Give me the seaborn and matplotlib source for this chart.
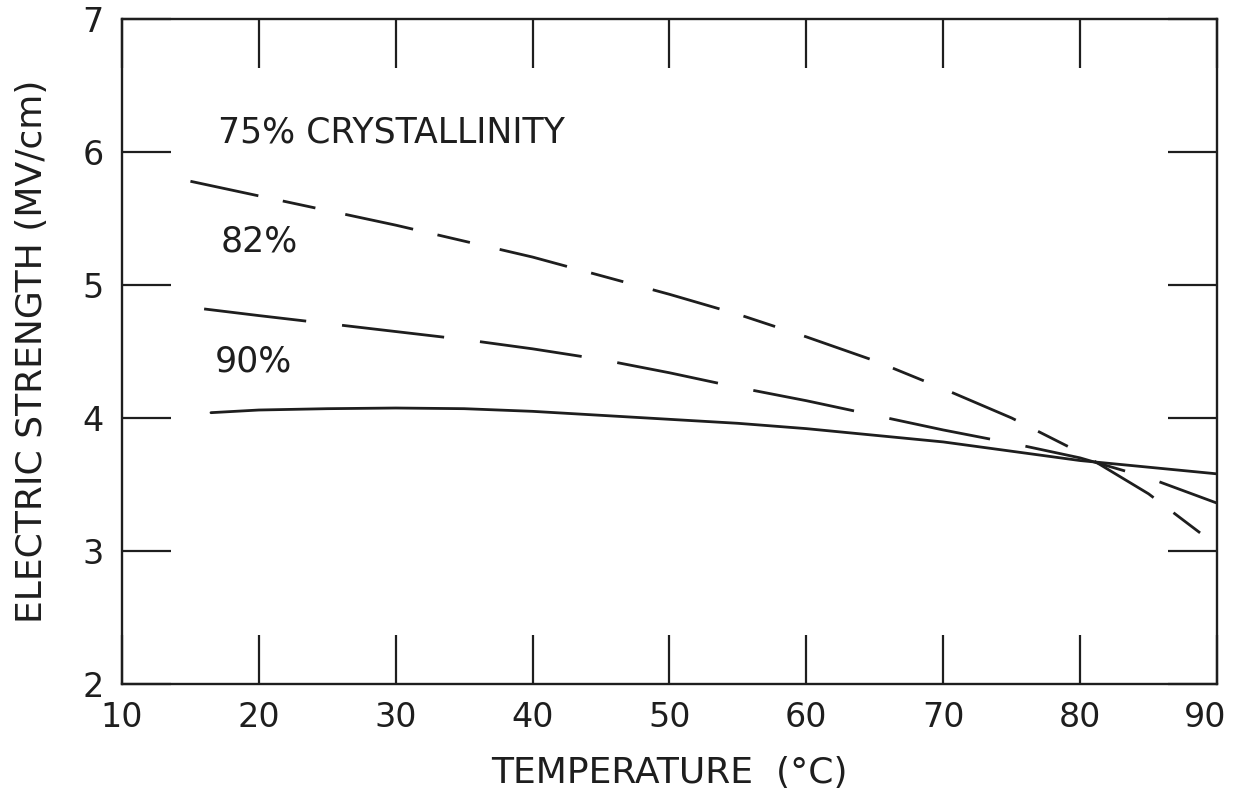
import pandas as pd
import matplotlib
matplotlib.use('Agg')
import matplotlib.pyplot as plt
import matplotlib.transforms as mtransforms
import seaborn as sns

# values
temp_75 = [15, 20, 25, 30, 35, 40, 45, 50, 55, 60, 65, 70, 75, 80, 85, 90]
strength_75 = [5.78, 5.67, 5.56, 5.45, 5.33, 5.21, 5.07, 4.93, 4.78, 4.61, 4.43, 4.22, 4.00, 3.74, 3.43, 3.04]

temp_82 = [16, 20, 25, 30, 35, 40, 45, 50, 55, 60, 65, 70, 75, 80, 85, 90]
strength_82 = [4.82, 4.77, 4.71, 4.65, 4.59, 4.52, 4.44, 4.34, 4.23, 4.13, 4.02, 3.91, 3.81, 3.70, 3.55, 3.36]

temp_90 = [16.5, 20, 25, 30, 35, 40, 45, 50, 55, 60, 65, 70, 75, 80, 85, 90]
strength_90 = [4.04, 4.06, 4.07, 4.075, 4.07, 4.05, 4.02, 3.99, 3.96, 3.92, 3.87, 3.82, 3.75, 3.68, 3.63, 3.58]

x_ticks = [10, 20, 30, 40, 50, 60, 70, 80, 90]
y_ticks = [2, 3, 4, 5, 6, 7]

sns.set_theme(style='white')
plt.rcParams['font.family'] = ['DejaVu Sans']

ink = '#1e1e1e'

fig = plt.figure(figsize=(12.36, 8.06), dpi=100)
ax = fig.add_axes([0.0987, 0.1514, 0.8859, 0.8250])

df75 = pd.DataFrame({'T': temp_75, 'E': strength_75})
df82 = pd.DataFrame({'T': temp_82, 'E': strength_82})
df90 = pd.DataFrame({'T': temp_90, 'E': strength_90})

sns.lineplot(data=df75, x='T', y='E', ax=ax, color=ink, linewidth=2.0, dashes=False)
sns.lineplot(data=df82, x='T', y='E', ax=ax, color=ink, linewidth=2.0, dashes=False)
sns.lineplot(data=df90, x='T', y='E', ax=ax, color=ink, linewidth=2.0, dashes=False)
ax.lines[0].set_dashes([25, 9, 12, 11])
ax.lines[1].set_dashes([37, 13])

ax.set_xlim(10, 90)
ax.set_ylim(2, 7)
ax.set_xticks(x_ticks)
ax.set_yticks(y_ticks)
ax.tick_params(axis='both', which='major', direction='in', length=35, width=1.6,
               color=ink, labelsize=24, labelcolor=ink,
               top=True, right=True, bottom=True, left=True)
ax.tick_params(axis='x', pad=12)
ax.tick_params(axis='y', pad=13)

# the last x label sits a little left of its tick, as in the original
last = ax.get_xticklabels()[-1]
last.set_transform(last.get_transform() + mtransforms.ScaledTranslation(-12 / 100, 0, fig.dpi_scale_trans))

for sp in ax.spines.values():
    sp.set_color(ink)
    sp.set_linewidth(1.7)

ax.set_xlabel('TEMPERATURE  (°C)', fontsize=26, color=ink, labelpad=16)
ax.set_ylabel('ELECTRIC STRENGTH (MV/cm)', fontsize=26, color=ink, labelpad=24)

ax.text(17.0, 6.02, '75% CRYSTALLINITY', fontsize=25, color=ink, va='bottom')
ax.text(17.2, 5.2, '82%', fontsize=25, color=ink, va='bottom')
ax.text(16.8, 4.3, '90%', fontsize=25, color=ink, va='bottom')

fig.savefig('out.png', dpi=100)
